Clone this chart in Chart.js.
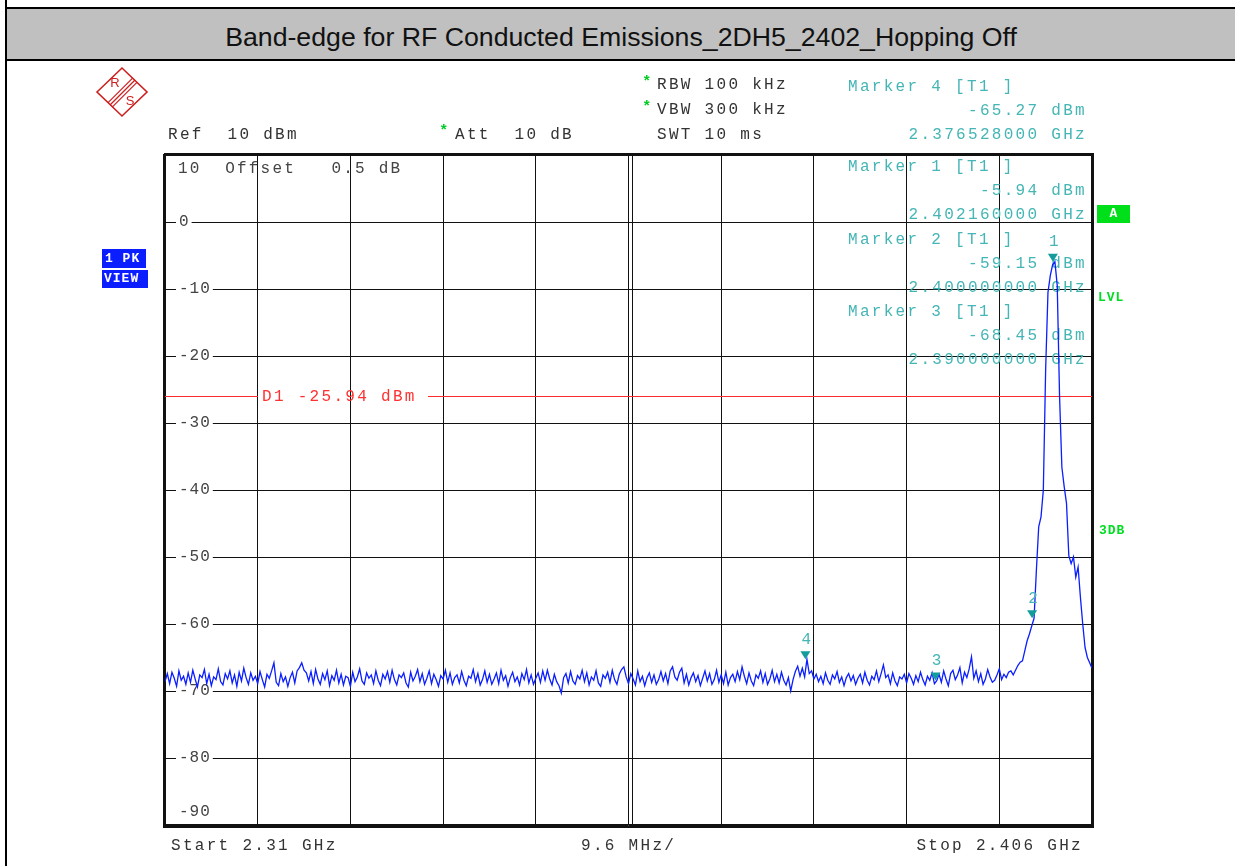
<!DOCTYPE html>
<html>
<head>
<meta charset="utf-8">
<script src="https://cdn.jsdelivr.net/npm/chart.js@4.4.1/dist/chart.umd.min.js"></script>
<style>
html, body { margin: 0; padding: 0; background: #fff; }
#wrap { position: relative; width: 1235px; height: 866px; overflow: hidden; }
#plot { position: absolute; left: 0; top: 0; }
#band { position: absolute; left: 7px; top: 7px; width: 1228px; height: 50px; background: #c0c0c0;
        border-top: 2px solid #000; border-bottom: 2px solid #000;
        font: 26.7px "Liberation Sans", Arial, sans-serif; color: #111; text-align: center; line-height: 56px; }
#rule { position: absolute; left: 5px; top: 0; width: 2px; height: 866px; background: #000; }
</style>
</head>
<body>
<div id="wrap">
  <canvas id="plot" width="1235" height="866"></canvas>
  <div id="band">Band-edge for RF Conducted Emissions_2DH5_2402_Hopping Off</div>
  <div id="rule"></div>
</div>
<script>
// sweep settings (GHz)
var startGHz = 2.31;
var stopGHz = 2.406;
var gridFreqs = [2.31, 2.3196, 2.3292, 2.3388, 2.3484, 2.358, 2.3676, 2.3772, 2.3868, 2.3964, 2.406];
var levelTicks = [10, 0, -10, -20, -30, -40, -50, -60, -70, -80, -90];

// trace 1 (dBm), 401 sweep points
var traceLevels = [
  -68.6,-67.4,-68.9,-67.2,-68.1,-69.3,-67.0,-68.4,-67.8,-69.0,
  -67.3,-68.7,-66.9,-68.2,-69.4,-67.6,-68.0,-66.8,-68.9,-67.5,
  -69.2,-67.9,-68.3,-66.7,-68.6,-69.1,-67.4,-68.2,-67.0,-68.8,
  -67.6,-69.3,-67.2,-68.5,-66.6,-68.0,-69.0,-67.3,-68.4,-67.8,
  -68.9,-67.1,-68.3,-69.4,-67.5,-68.1,-67.0,-65.8,-68.7,-69.2,
  -67.4,-68.6,-67.9,-69.3,-68.0,-67.2,-68.8,-67.0,-66.5,-65.8,
  -66.9,-67.3,-68.5,-67.1,-68.9,-66.8,-68.2,-69.0,-67.4,-68.3,
  -67.0,-69.2,-67.7,-68.4,-66.9,-68.8,-67.5,-69.1,-67.8,-68.0,
  -69.3,-67.2,-68.6,-67.9,-66.7,-68.5,-69.0,-67.3,-68.1,-67.6,
  -68.9,-67.0,-68.4,-69.2,-67.5,-68.2,-67.1,-68.7,-66.9,-68.3,
  -69.1,-67.6,-68.0,-67.3,-68.8,-69.4,-67.2,-68.5,-67.8,-66.8,
  -68.6,-67.4,-69.0,-68.1,-67.0,-68.9,-67.5,-68.3,-69.3,-67.7,
  -68.2,-66.9,-68.7,-67.3,-69.0,-68.0,-67.6,-68.8,-67.1,-68.4,
  -69.2,-67.8,-68.1,-66.8,-68.6,-67.4,-69.1,-68.3,-67.0,-68.7,
  -67.5,-69.0,-68.2,-67.3,-68.9,-66.9,-68.4,-67.7,-69.3,-68.0,
  -67.2,-68.6,-67.9,-69.1,-67.4,-68.3,-66.8,-68.8,-67.6,-69.0,
  -68.1,-67.3,-68.7,-67.0,-68.4,-66.9,-68.2,-69.1,-67.5,-68.6,
  -69.2,-70.3,-68.0,-67.4,-68.8,-67.1,-68.5,-69.0,-67.7,-68.2,
  -66.9,-68.6,-67.3,-69.1,-67.9,-68.4,-67.0,-68.8,-69.3,-67.6,
  -68.1,-67.2,-68.7,-66.9,-68.3,-69.0,-67.5,-66.8,-66.4,-67.9,
  -68.9,-67.4,-68.2,-69.1,-67.0,-68.6,-67.8,-69.2,-68.0,-67.3,
  -68.7,-67.6,-69.0,-68.3,-67.1,-68.5,-67.4,-68.9,-67.0,-66.4,
  -67.9,-68.4,-67.2,-66.6,-68.8,-67.5,-69.1,-68.0,-67.3,-68.6,
  -67.7,-69.2,-68.1,-67.0,-68.5,-67.4,-69.0,-68.3,-66.9,-68.7,
  -67.6,-68.9,-67.2,-69.1,-68.0,-67.5,-68.6,-67.1,-68.3,-66.4,
  -67.8,-68.9,-67.3,-68.5,-69.2,-67.6,-68.1,-67.0,-68.7,-67.4,
  -69.0,-68.2,-66.9,-68.6,-67.5,-68.8,-67.2,-68.4,-69.1,-68.0,
  -70.0,-68.3,-67.1,-66.3,-67.8,-66.6,-67.9,-65.27,-67.4,-67.0,
  -68.2,-67.5,-68.6,-67.8,-68.9,-67.3,-68.4,-69.0,-67.6,-68.2,
  -67.1,-68.7,-67.9,-69.2,-68.0,-67.4,-68.5,-67.7,-69.0,-68.1,
  -67.5,-68.8,-67.2,-68.4,-69.1,-67.8,-68.3,-67.0,-68.6,-67.4,
  -66.1,-68.0,-67.6,-68.9,-67.3,-68.5,-69.2,-67.9,-68.2,-67.5,
  -68.8,-67.4,-68.1,-69.0,-67.7,-68.6,-67.2,-68.3,-69.1,-67.8,
  -68.4,-67.3,-68.9,-68.45,-67.5,-68.7,-67.0,-68.2,-69.2,-67.4,
  -66.9,-68.3,-67.6,-66.5,-68.8,-67.2,-68.0,-66.7,-64.9,-68.1,
  -67.0,-68.6,-67.4,-69.0,-68.2,-66.8,-67.9,-68.7,-68.4,-67.6,
  -66.7,-68.3,-67.5,-68.0,-67.2,-67.0,-67.6,-66.9,-66.2,-65.7,
  -65.5,-64.0,-62.5,-61.5,-60.3,-59.15,-52.0,-45.5,-44.0,-40.0,
  -22.0,-10.5,-8.0,-6.4,-5.94,-9.5,-26.0,-36.6,-39.5,-42.0,
  -49.8,-51.0,-50.0,-53.0,-51.5,-56.0,-60.0,-63.5,-65.0,-65.8,
  -66.6
];

// markers
var markerNums = [1, 2, 3, 4];
var markerFreqs = [2.40216, 2.4, 2.39, 2.376528];
var markerLevels = [-5.94, -59.15, -68.45, -65.27];

// display line
var displayLine = -25.94;

var tracePoints = traceLevels.map(function (v, i) {
  return { x: startGHz + i * (stopGHz - startGHz) / (traceLevels.length - 1), y: v };
});

var MONO = '"Liberation Mono", "DejaVu Sans Mono", monospace';

function put(ctx, s, x, y, color, align, font) {
  ctx.font = font || ('16px ' + MONO);
  ctx.fillStyle = color;
  ctx.textAlign = align || 'left';
  ctx.textBaseline = 'middle';
  ctx.fillText(s, x, y);
}

var annot = {
  id: 'annot',
  beforeDatasetsDraw: function (chart) {
    var ctx = chart.ctx, a = chart.chartArea, xs = chart.scales.x, ys = chart.scales.y;
    ctx.save();

    // frame
    ctx.strokeStyle = '#111';
    ctx.lineWidth = 1;
    ctx.strokeRect(a.left + 0.5, a.top + 0.5, a.right - a.left - 1, a.bottom - a.top - 1);
    ctx.lineWidth = 2;
    ctx.beginPath();
    ctx.moveTo(a.left - 1, a.top - 1); ctx.lineTo(a.right + 2, a.top - 1);
    ctx.moveTo(a.right + 1, a.top - 1); ctx.lineTo(a.right + 1, a.bottom + 3);
    ctx.moveTo(a.left - 1, a.bottom + 2); ctx.lineTo(a.right + 2, a.bottom + 2);
    ctx.moveTo(a.left - 1, a.top - 1); ctx.lineTo(a.left - 1, a.bottom + 3);
    ctx.stroke();
    ctx.lineWidth = 1;
    var cx = Math.round(xs.getPixelForValue(gridFreqs[5])) + 3.5;
    ctx.beginPath(); ctx.moveTo(cx, a.top); ctx.lineTo(cx, a.bottom); ctx.stroke();

    // level labels
    ctx.letterSpacing = '1px';
    levelTicks.forEach(function (v) {
      var py = ys.getPixelForValue(v);
      if (v === 10) {
        ctx.letterSpacing = '2.2px';
        put(ctx, '10  Offset   0.5 dB', a.left + 13, py + 14, '#444');
        ctx.letterSpacing = '1px';
      } else if (v === -90) {
        put(ctx, '-90', a.left + 14, py - 13, '#444');
      } else {
        var s = String(v);
        ctx.font = '16px ' + MONO;
        var w = ctx.measureText(s).width;
        ctx.fillStyle = '#fff';
        ctx.fillRect(a.left + 11, py - 3, w + 5, 6);
        put(ctx, s, a.left + 14, py, '#444');
      }
    });

    ctx.letterSpacing = '2.3px';
    // display line D1
    var dy = Math.round(ys.getPixelForValue(displayLine)) + 0.5;
    ctx.strokeStyle = '#ff2a2a';
    ctx.lineWidth = 1;
    ctx.beginPath();
    ctx.moveTo(a.left, dy); ctx.lineTo(258, dy);
    ctx.moveTo(428, dy); ctx.lineTo(a.right, dy);
    ctx.stroke();
    put(ctx, 'D1 -' + Math.abs(displayLine).toFixed(2) + ' dBm', 262, dy, '#ff3030');

    // header
    put(ctx, 'Ref  10 dBm', 168, 135, '#333');
    put(ctx, 'Att  10 dB', 455, 135, '#333');
    put(ctx, 'RBW 100 kHz', 657, 85, '#333');
    put(ctx, 'VBW 300 kHz', 657, 110, '#333');
    put(ctx, 'SWT 10 ms', 657, 135, '#333');
    var star = 'bold 15px ' + MONO;
    put(ctx, '*', 445, 131, '#00cc22', 'center', star);
    put(ctx, '*', 648, 82, '#00cc22', 'center', star);
    put(ctx, '*', 648, 107, '#00cc22', 'center', star);

    // footer
    put(ctx, 'Start ' + startGHz + ' GHz', 171, 846, '#333');
    put(ctx, ((stopGHz - startGHz) * 100).toFixed(1) + ' MHz/', 581, 846, '#333');
    put(ctx, 'Stop ' + stopGHz + ' GHz', 1083, 846, '#333', 'right');

    // marker info
    var infoTop = { 4: 87, 1: 167, 2: 240, 3: 312 };
    markerNums.forEach(function (n, i) {
      var t = infoTop[n];
      put(ctx, 'Marker ' + n + ' [T1 ]', 848, t, '#45b5b5');
      put(ctx, markerLevels[i].toFixed(2) + ' dBm', 1087, t + 24, '#45b5b5', 'right');
      put(ctx, markerFreqs[i].toFixed(9) + ' GHz', 1087, t + 48, '#45b5b5', 'right');
    });

    // side boxes
    ctx.fillStyle = '#0a1eff';
    ctx.fillRect(102, 249, 44, 19);
    ctx.fillRect(102, 270, 46, 18);
    ctx.letterSpacing = '1px';
    var bold = 'bold 13px ' + MONO;
    put(ctx, '1 PK', 105, 259, '#fff', 'left', bold);
    put(ctx, 'VIEW', 104, 279, '#fff', 'left', bold);
    ctx.fillStyle = '#00e01a';
    ctx.fillRect(1097, 205, 33, 18);
    put(ctx, 'A', 1114, 214, '#fff', 'center', bold);
    put(ctx, 'LVL', 1098, 298, '#00dd22', 'left', bold);
    put(ctx, '3DB', 1099, 531, '#00dd22', 'left', bold);

    // logo
    ctx.strokeStyle = '#cc1f1f';
    ctx.lineWidth = 1.6;
    ctx.beginPath();
    ctx.moveTo(97, 92); ctx.lineTo(122, 68); ctx.lineTo(147, 92); ctx.lineTo(122, 116); ctx.closePath();
    ctx.stroke();
    ctx.lineWidth = 1.2;
    [-2.2, 0, 2.2].forEach(function (o) {
      ctx.beginPath();
      ctx.moveTo(135 + o, 80 + o); ctx.lineTo(110 + o, 105 + o);
      ctx.stroke();
    });
    ctx.letterSpacing = '0px';
    put(ctx, 'R', 115, 83, '#cc1f1f', 'center', '13px "Liberation Sans", sans-serif');
    put(ctx, 'S', 130, 101, '#cc1f1f', 'center', '13px "Liberation Sans", sans-serif');
    ctx.restore();
  },
  afterDatasetsDraw: function (chart) {
    var ctx = chart.ctx, xs = chart.scales.x, ys = chart.scales.y;
    ctx.save();
    markerNums.forEach(function (n, i) {
      var px = xs.getPixelForValue(markerFreqs[i]) - 2;
      var py = ys.getPixelForValue(markerLevels[i]);
      ctx.fillStyle = '#149c9c';
      ctx.beginPath();
      ctx.moveTo(px - 5, py - 8); ctx.lineTo(px + 5, py - 8); ctx.lineTo(px, py); ctx.closePath();
      ctx.fill();
      put(ctx, String(n), px + 1, py - 20, '#45b5b5', 'center');
    });
    ctx.restore();
  }
};

var ctx = document.getElementById('plot').getContext('2d');
var chart = new Chart(ctx, {
  type: 'line',
  data: {
    datasets: [{
      label: 'Trace 1',
      data: tracePoints,
      borderColor: '#0a1eff',
      borderWidth: 1.3,
      pointRadius: 0,
      tension: 0,
      fill: false
    }]
  },
  options: {
    responsive: false,
    animation: false,
    devicePixelRatio: 1,
    layout: { padding: { left: 165, top: 155, right: 1235 - 1092, bottom: 866 - 825 } },
    plugins: { legend: { display: false }, tooltip: { enabled: false } },
    scales: {
      x: {
        type: 'linear', min: startGHz, max: stopGHz,
        afterBuildTicks: function (s) { s.ticks = gridFreqs.map(function (v) { return { value: v }; }); },
        ticks: { display: false },
        grid: { color: '#111', lineWidth: 1, drawTicks: false },
        border: { display: false }
      },
      y: {
        min: -90, max: 10,
        afterBuildTicks: function (s) { s.ticks = levelTicks.map(function (v) { return { value: v }; }); },
        ticks: { display: false },
        grid: { color: '#111', lineWidth: 1, drawTicks: false },
        border: { display: false }
      }
    }
  },
  plugins: [annot]
});
</script>
</body>
</html>
